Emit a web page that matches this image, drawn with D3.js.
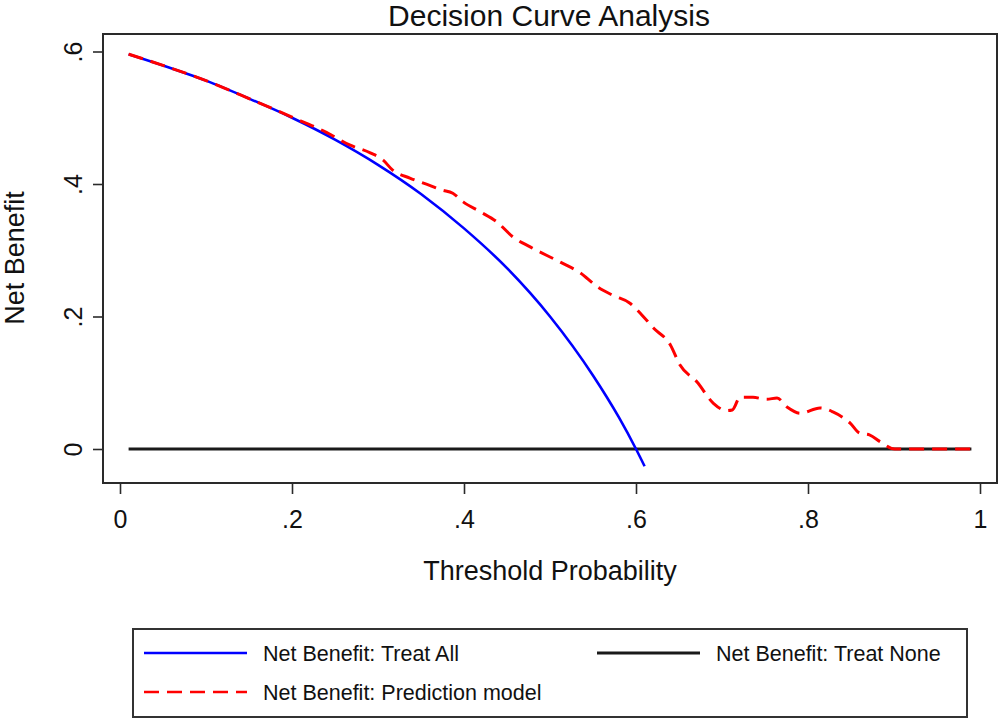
<!DOCTYPE html>
<html>
<head>
<meta charset="utf-8">
<script src="https://cdn.jsdelivr.net/npm/d3@7"></script>
<style>
  body { margin: 0; background: #fff; }
  text { font-family: "Liberation Sans", Arial, sans-serif; fill: #111; }
</style>
</head>
<body>
<svg id="chart" width="1000" height="719"></svg>
<script>
// values
var xTicks = [0, 0.2, 0.4, 0.6, 0.8, 1]
var xTickLabels = ["0", ".2", ".4", ".6", ".8", "1"]
var yTicks = [0, 0.2, 0.4, 0.6]
var yTickLabels = ["0", ".2", ".4", ".6"]

var treatAllX = [0.01, 0.05, 0.10, 0.15, 0.20, 0.25, 0.30, 0.35, 0.40, 0.45, 0.50, 0.55, 0.58, 0.60, 0.61]
var treatAllY = [0.596, 0.579, 0.556, 0.529, 0.500, 0.467, 0.429, 0.385, 0.333, 0.273, 0.200, 0.111, 0.048, 0.000, -0.026]

var treatNoneX = [0.01, 0.99]
var treatNoneY = [0, 0]

var modelX = [0.01, 0.05, 0.10, 0.15, 0.20, 0.24, 0.267, 0.291, 0.306, 0.317, 0.337, 0.360, 0.374, 0.387, 0.399,
  0.419, 0.438, 0.457, 0.477, 0.512, 0.535, 0.555, 0.573, 0.593, 0.605, 0.620, 0.640, 0.651, 0.671, 0.690,
  0.705, 0.712, 0.721, 0.736, 0.752, 0.764, 0.776, 0.791, 0.814, 0.829, 0.849, 0.860, 0.872, 0.884, 0.901, 0.95, 0.99]
var modelY = [0.596, 0.579, 0.556, 0.529, 0.501, 0.478, 0.459, 0.447, 0.436, 0.421, 0.409, 0.398, 0.391, 0.386, 0.373,
  0.358, 0.343, 0.320, 0.305, 0.282, 0.266, 0.245, 0.232, 0.220, 0.205, 0.183, 0.157, 0.127, 0.101, 0.069,
  0.058, 0.059, 0.078, 0.078, 0.075, 0.077, 0.063, 0.054, 0.062, 0.056, 0.039, 0.024, 0.021, 0.011, 0.000, 0.000, 0.000]

var legendItems = [
  {label: "Net Benefit: Treat All", color: "#0000ff", dash: null, col: 0, row: 0},
  {label: "Net Benefit: Treat None", color: "#1a1a1a", dash: null, col: 1, row: 0},
  {label: "Net Benefit: Prediction model", color: "#ff0000", dash: "15,8", col: 0, row: 1}
]

var svg = d3.select("#chart")

// plot frame
var frame = {left: 103, top: 34, right: 997, bottom: 483}

var x = d3.scaleLinear().domain([0, 1]).range([120, 980])
var y = d3.scaleLinear().domain([0, 0.6]).range([449, 51.5])

function zip(xs, ys) {
  return xs.map(function(d, i) { return [d, ys[i]] })
}

svg.append("rect")
  .attr("x", frame.left).attr("y", frame.top)
  .attr("width", frame.right - frame.left)
  .attr("height", frame.bottom - frame.top)
  .attr("fill", "none")
  .attr("stroke", "#2a2a2a")
  .attr("stroke-width", 2)

// axes
var xAxis = svg.append("g")
  .attr("transform", "translate(0," + frame.bottom + ")")
  .call(d3.axisBottom(x).tickValues(xTicks).tickSize(11).tickPadding(0)
    .tickFormat(function(d, i) { return xTickLabels[i] }))
xAxis.select(".domain").remove()
xAxis.selectAll("line").attr("stroke", "#2a2a2a").attr("stroke-width", 1.6)
xAxis.selectAll("text")
  .attr("y", 45).attr("dy", null)
  .style("font-size", "25px")

var yAxis = svg.append("g")
  .attr("transform", "translate(" + frame.left + ",0)")
  .call(d3.axisLeft(y).tickValues(yTicks).tickSize(10)
    .tickFormat(function(d, i) { return yTickLabels[i] }))
yAxis.select(".domain").remove()
yAxis.selectAll("line").attr("stroke", "#2a2a2a").attr("stroke-width", 1.6)
yAxis.selectAll("text")
  .attr("x", null).attr("dy", null)
  .attr("text-anchor", "middle")
  .attr("transform", "translate(-21,0) rotate(-90)")
  .style("font-size", "25px")

// lines
var line = d3.line()
  .x(function(d) { return x(d[0]) })
  .y(function(d) { return y(d[1]) })

svg.append("path")
  .datum(zip(treatNoneX, treatNoneY))
  .attr("d", line)
  .attr("fill", "none")
  .attr("stroke", "#1a1a1a")
  .attr("stroke-width", 2.8)

svg.append("path")
  .datum(zip(treatAllX, treatAllY))
  .attr("d", line.curve(d3.curveMonotoneX))
  .attr("fill", "none")
  .attr("stroke", "#0000ff")
  .attr("stroke-width", 2.6)

svg.append("path")
  .datum(zip(modelX, modelY))
  .attr("d", line.curve(d3.curveMonotoneX))
  .attr("fill", "none")
  .attr("stroke", "#ff0000")
  .attr("stroke-width", 3)
  .attr("stroke-dasharray", "15,8")

// titles
svg.append("text")
  .attr("x", 549).attr("y", 26)
  .attr("text-anchor", "middle")
  .style("font-size", "30px")
  .text("Decision Curve Analysis")

svg.append("text")
  .attr("x", 550).attr("y", 580)
  .attr("text-anchor", "middle")
  .style("font-size", "27px")
  .text("Threshold Probability")

svg.append("text")
  .attr("transform", "translate(24,258) rotate(-90)")
  .attr("text-anchor", "middle")
  .style("font-size", "27px")
  .text("Net Benefit")

// legend
var legend = svg.append("g")
legend.append("rect")
  .attr("x", 133).attr("y", 629)
  .attr("width", 834).attr("height", 88)
  .attr("fill", "#fff")
  .attr("stroke", "#333")
  .attr("stroke-width", 2)

var colX = [144, 597]
var rowY = [653, 692]

var entry = legend.selectAll("g.entry")
  .data(legendItems)
  .join("g")
  .attr("class", "entry")
  .attr("transform", function(d) { return "translate(" + colX[d.col] + "," + rowY[d.row] + ")" })

entry.append("line")
  .attr("x1", 0).attr("x2", 103)
  .attr("y1", 0).attr("y2", 0)
  .attr("stroke", function(d) { return d.color })
  .attr("stroke-width", function(d) { return d.col == 1 ? 3 : 2.6 })
  .attr("stroke-dasharray", function(d) { return d.dash })

entry.append("text")
  .attr("x", 119).attr("y", 8)
  .style("font-size", "21.5px")
  .text(function(d) { return d.label })
</script>
</body>
</html>
